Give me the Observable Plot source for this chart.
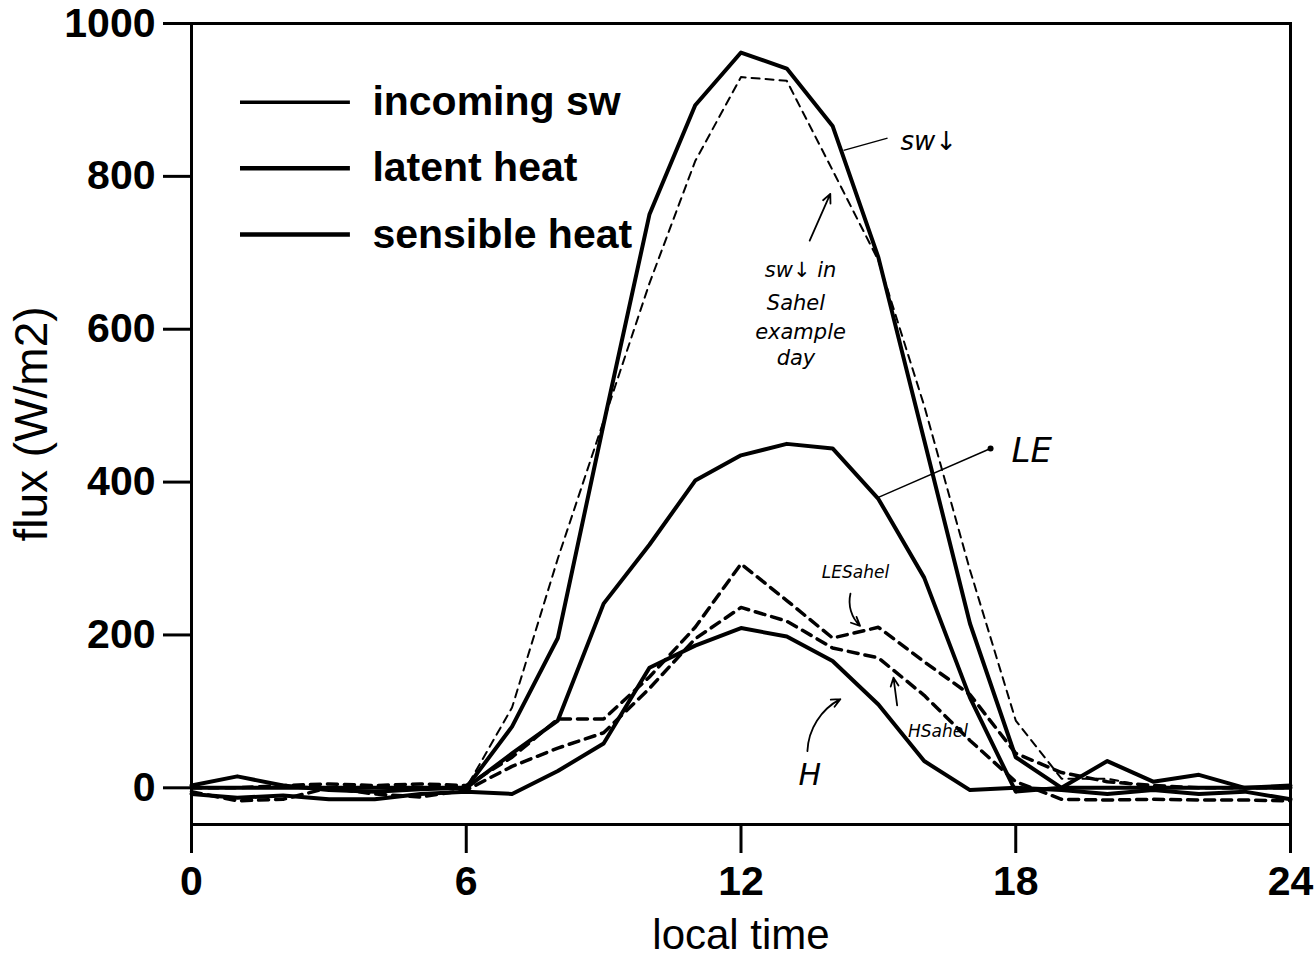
<!DOCTYPE html>
<html><head><meta charset="utf-8">
<script src="https://cdn.jsdelivr.net/npm/d3@7"></script>
<script src="https://cdn.jsdelivr.net/npm/@observablehq/plot@0.6"></script>
<style>
html,body{margin:0;padding:0;background:#fff;}
#chart svg{font-family:"Liberation Sans",Arial,Helvetica,sans-serif;}
</style></head><body><div id="chart"></div>
<script>
// ---- data (hourly, local time) ----
const hours = [0,1,2,3,4,5,6,7,8,9,10,11,12,13,14,15,16,17,18,19,20,21,22,23,24];
const swIncoming = [0,0,0,0,0,0,0,80,196,476,750,893,962,941,866,694,455,215,40,0,0,0,0,0,0];
const latentHeat = [3,15,3,-3,-5,-2,0,45,88,241,318,402,435,450,444,378,275,118,-5,0,35,8,17,0,3];
const sensibleHeat = [-8,-13,-10,-15,-15,-8,-5,-8,22,58,157,186,209,198,166,109,35,-3,0,-3,-8,-3,-8,-5,-15];
const swSahel = [0,0,0,0,0,0,0,105,300,480,660,820,930,925,808,690,500,285,88,12,12,0,0,0,0];
const leSahel = [0,0,3,5,3,5,3,40,90,90,145,210,293,245,196,210,165,122,45,20,8,3,0,0,0];
const hSahel = [-5,-17,-15,0,-8,-12,-3,28,52,72,130,195,236,218,183,170,121,62,8,-15,-16,-15,-16,-16,-17];

const xTicks = [0,6,12,18,24];
const yTicks = [0,200,400,600,800,1000];
const legendLabels = ["incoming sw","latent heat","sensible heat"];
const legendWidths = [3.5,4.5,4.5];

// handwritten notes (data coordinates)
const notes = [
  {x:16.1, y:845, text:"sw↓", size:26},
  {x:13.3, y:677, text:"sw↓ in", size:21},
  {x:13.2, y:634, text:"Sahel", size:21},
  {x:13.3, y:596, text:"example", size:21},
  {x:13.2, y:562, text:"day", size:21},
  {x:18.35, y:441, text:"LE", size:34},
  {x:14.5, y:281, text:"LESahel", size:17},
  {x:16.3, y:74, text:"HSahel", size:17},
  {x:13.5, y:16, text:"H", size:30}
];
const straightArrows = [
  {x1:13.5, y1:716, x2:13.95, y2:777},
  {x1:15.41, y1:108, x2:15.33, y2:144}
];
const bentArrowsL = [
  {x1:14.39, y1:254, x2:14.6, y2:212}
];
const bentArrowsR = [
  {x1:13.45, y1:48, x2:14.17, y2:116}
];
const noteLinks = [
  {x1:14.24, y1:834, x2:15.2, y2:850},
  {x1:15.0, y1:380, x2:17.45, y2:444}
];

const mk = (vals) => hours.map((h,i)=>({h, v: vals[i]}));

const legendRows = legendLabels.map((label,i)=>({label, i, w: legendWidths[i], y: 897 - i*86.5}));
const arrowStyle = {x1:"x1", y1:"y1", x2:"x2", y2:"y2", stroke:"#000", strokeWidth:1.8, headLength:8, headAngle:50};

const chart = Plot.plot({
  width: 1316,
  height: 974,
  marginLeft: 191,
  marginRight: 26,
  marginTop: 23,
  marginBottom: 150,
  x: {domain:[0,24]},
  y: {domain:[-48,1000]},
  style: {background:"#fff", color:"#000"},
  marks: [
    Plot.axisX({ticks:xTicks, tickFormat:d=>String(d), tickSize:29, tickPadding:12, fontSize:41, fontWeight:"bold", strokeWidth:3, label:null}),
    Plot.axisY({ticks:yTicks, tickFormat:d=>String(d), tickSize:28, tickPadding:8, fontSize:41, fontWeight:"bold", strokeWidth:3, label:null}),
    Plot.text(["flux (W/m2)"], {frameAnchor:"left", textAnchor:"middle", dx:-159, rotate:-90, fontSize:46}),
    Plot.text(["local time"], {frameAnchor:"bottom", textAnchor:"middle", dy:124, fontSize:42}),
    // Sahel example day (dashed)
    Plot.line(mk(swSahel), {x:"h", y:"v", stroke:"#000", strokeWidth:2, strokeDasharray:"8,6"}),
    Plot.line(mk(leSahel), {x:"h", y:"v", stroke:"#000", strokeWidth:3.5, strokeDasharray:"10,7"}),
    Plot.line(mk(hSahel), {x:"h", y:"v", stroke:"#000", strokeWidth:3.5, strokeDasharray:"10,7"}),
    // main series (solid)
    Plot.line(mk(swIncoming), {x:"h", y:"v", stroke:"#000", strokeWidth:4}),
    Plot.line(mk(latentHeat), {x:"h", y:"v", stroke:"#000", strokeWidth:4}),
    Plot.line(mk(sensibleHeat), {x:"h", y:"v", stroke:"#000", strokeWidth:4}),
    // legend
    Plot.ruleY(legendRows, {x1:1.07, x2:3.47, y:"y", stroke:"#000", strokeWidth:"w"}),
    Plot.text(legendRows, {x:3.95, y:"y", text:"label", textAnchor:"start", fontSize:41, fontWeight:"bold"}),
    // handwritten annotations
    Plot.link(noteLinks, {x1:"x1", y1:"y1", x2:"x2", y2:"y2", stroke:"#000", strokeWidth:1.5}),
    Plot.dot([noteLinks[1]], {x:"x2", y:"y2", r:3, fill:"#000"}),
    Plot.arrow(straightArrows, {...arrowStyle}),
    Plot.arrow(bentArrowsL, {...arrowStyle, bend:-30}),
    Plot.arrow(bentArrowsR, {...arrowStyle, bend:30}),
    Plot.text(notes, {x:"x", y:"y", text:"text", fontSize:"size", fontStyle:"italic", fontFamily:"DejaVu Sans"}),
    Plot.frame({stroke:"#000", strokeWidth:3})
  ]
});
document.getElementById("chart").append(chart);
</script></body></html>
